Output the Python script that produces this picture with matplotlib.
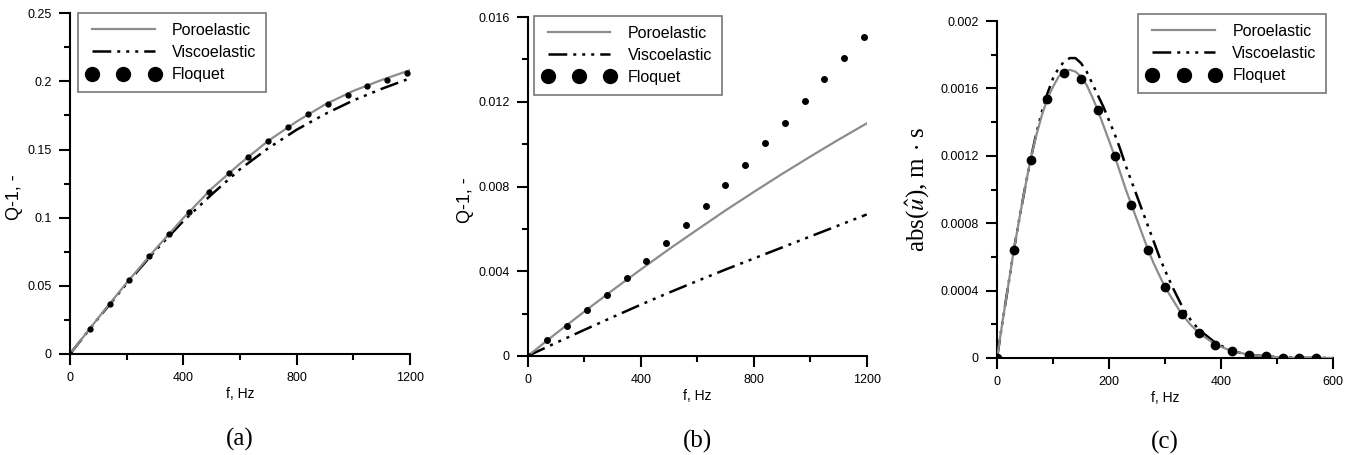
import matplotlib
matplotlib.use("Agg")
import matplotlib.pyplot as plt
from matplotlib.ticker import MultipleLocator, FuncFormatter

plt.rcParams['font.family'] = ['Liberation Sans', 'DejaVu Sans']
plt.rcParams['mathtext.fontset'] = 'stix'

# ---- (a) ----
fa_curve = [0, 100, 200, 300, 400, 500, 600, 700, 800, 900, 1000, 1100, 1200]
poro_a = [0, 0.0265, 0.0522, 0.0765, 0.0997, 0.1213, 0.1396, 0.1564, 0.1705,
          0.1830, 0.1930, 0.2010, 0.2082]
visco_a = [0, 0.0262, 0.0515, 0.0755, 0.0975, 0.1170, 0.1355, 0.1510, 0.1645,
           0.1760, 0.1860, 0.1945, 0.2022]
f_floq_ab = [0, 70, 140, 210, 280, 350, 420, 490, 560, 630, 700, 770, 840,
             910, 980, 1050, 1120, 1190]
floq_a = [0, 0.0183, 0.0367, 0.0545, 0.0716, 0.0882, 0.1038, 0.1190, 0.1325,
          0.1447, 0.1564, 0.1666, 0.1757, 0.1835, 0.1902, 0.1965, 0.2009, 0.2058]

# ---- (b) ----
fb_curve = fa_curve
poro_b = [0, 0.00106, 0.00209, 0.00310, 0.00408, 0.00504, 0.00596, 0.00687,
          0.00774, 0.00859, 0.00941, 0.01021, 0.01098]
visco_b = [0, 0.00062, 0.00123, 0.00183, 0.00242, 0.00299, 0.00354, 0.00408,
           0.00460, 0.00512, 0.00564, 0.00616, 0.00668]
floq_b = [0, 0.00074, 0.00143, 0.00217, 0.00289, 0.00366, 0.00448, 0.00531,
          0.00619, 0.00710, 0.00805, 0.00902, 0.01003, 0.01102, 0.01204,
          0.01306, 0.01408, 0.01506]

# ---- (c) ----
fc_curve = [0, 10, 20, 30, 40, 50, 60, 70, 80, 90, 100, 110, 120, 130, 140,
            150, 160, 170, 180, 190, 200, 210, 220, 230, 240, 250, 260, 270,
            280, 290, 300, 315, 330, 345, 360, 390, 420, 450, 480, 510, 540, 600]
poro_c = [0, 0.00022, 0.00043, 0.00064, 0.00083, 0.00101, 0.00118, 0.00132,
          0.00144, 0.00154, 0.00161, 0.00167, 0.00170, 0.00171, 0.00170,
          0.00167, 0.00162, 0.00155, 0.00147, 0.00138, 0.00129, 0.00120,
          0.00110, 0.00100, 0.00091, 0.00082, 0.00073, 0.00064, 0.00056,
          0.00049, 0.00042, 0.00034, 0.00026, 0.00020, 0.00015, 0.00008,
          0.00004, 0.00002, 0.00001, 0.000003, 0.000001, 0]
visco_c = [0, 0.00022, 0.00043, 0.00064, 0.00083, 0.00101, 0.00118, 0.00133,
           0.00146, 0.00157, 0.00166, 0.00172, 0.00176, 0.00178, 0.00178,
           0.00175, 0.00170, 0.00163, 0.00156, 0.00149, 0.00141, 0.00133,
           0.00124, 0.00114, 0.00105, 0.00096, 0.00087, 0.00078, 0.00069,
           0.00060, 0.00052, 0.00041, 0.00031, 0.00023, 0.00017, 0.00009,
           0.00004, 0.00002, 0.00001, 0.000004, 0.000001, 0]
f_floq_c = [0, 30, 60, 90, 120, 150, 180, 210, 240, 270, 300, 330, 360, 390,
            420, 450, 480, 510, 540, 570]
floq_c = [0, 0.000638, 0.001175, 0.00154, 0.00169, 0.001658, 0.00147, 0.0012,
          0.00091, 0.000642, 0.000424, 0.000263, 0.000148, 0.000079, 0.000039,
          0.00002, 0.00001, 0.000002, 0, 0]

GRAY = '#8c8c8c'
VDASH = (0, (7.5, 2.4, 1.2, 2.4, 1.2, 2.4, 1.2, 2.4))

fig = plt.figure(figsize=(13.53, 4.55), dpi=100)

panels = [
    dict(pos=[0.0517, 0.222, 0.2513, 0.749], fc=fa_curve, poro=poro_a, visco=visco_a,
         ff=f_floq_ab, floq=floq_a, xlim=1200, xmaj=400, xmin=200, ylim=0.25,
         ymaj=0.05, ymin=0.025, ylabel='Q-1, -', ms=3.5, leg=(0.0235, 1.0), tag='(a)'),
    dict(pos=[0.390, 0.2176, 0.2506, 0.745], fc=fb_curve, poro=poro_b, visco=visco_b,
         ff=f_floq_ab, floq=floq_b, xlim=1200, xmaj=400, xmin=200, ylim=0.016,
         ymaj=0.004, ymin=0.002, ylabel='Q-1, -', ms=4, leg=(0.0177, 1.003), tag='(b)'),
    dict(pos=[0.7369, 0.2132, 0.2483, 0.7406], fc=fc_curve, poro=poro_c, visco=visco_c,
         ff=f_floq_c, floq=floq_c, xlim=600, xmaj=200, xmin=100, ylim=0.002,
         ymaj=0.0004, ymin=0.0002, ylabel=r'abs($\hat{u}$), m$\,\cdot\,$s', ms=6,
         leg=(0.42, 1.02), tag='(c)'),
]

for p in panels:
    ax = fig.add_axes(p['pos'])
    ax.plot(p['fc'], p['poro'], color=GRAY, lw=1.6, label='Poroelastic', zorder=3)
    ax.plot(p['fc'], p['visco'], color='black', lw=1.8, linestyle=VDASH,
            label='Viscoelastic', zorder=2)
    ax.plot(p['ff'], p['floq'], linestyle='none', marker='o', color='black',
            ms=p['ms'], label='Floquet', zorder=4)

    ax.set_xlim(0, p['xlim'])
    ax.set_ylim(0, p['ylim'])
    ax.xaxis.set_major_locator(MultipleLocator(p['xmaj']))
    ax.xaxis.set_minor_locator(MultipleLocator(p['xmin']))
    ax.yaxis.set_major_locator(MultipleLocator(p['ymaj']))
    ax.yaxis.set_minor_locator(MultipleLocator(p['ymin']))
    ax.yaxis.set_major_formatter(FuncFormatter(lambda v, pos: f'{round(v, 6):g}'))
    ax.xaxis.set_major_formatter(FuncFormatter(lambda v, pos: f'{v:g}'))

    for s in ['top', 'right']:
        ax.spines[s].set_visible(False)
    for s in ['left', 'bottom']:
        ax.spines[s].set_linewidth(1.5)
    ax.tick_params(which='major', direction='out', length=8, width=1.5,
                   labelsize=9, pad=5)
    ax.tick_params(which='minor', direction='out', length=4.5, width=1.5)

    ax.set_xlabel('f, Hz', fontsize=10, labelpad=2)
    if p['tag'] == '(c)':
        ax.set_ylabel(p['ylabel'], fontsize=18, family=['Liberation Serif'], labelpad=6)
    else:
        ax.set_ylabel(p['ylabel'], fontsize=13, labelpad=3)
        ax.yaxis.label.set_y(0.46)

    leg = ax.legend(loc='upper left', bbox_to_anchor=p['leg'], borderaxespad=0,
                    fontsize=11.5, numpoints=3, handlelength=4.5, handletextpad=0.8,
                    labelspacing=0.45, borderpad=0.6, fancybox=False, framealpha=1)
    leg.get_frame().set_edgecolor('#777777')
    leg.get_frame().set_linewidth(1.2)
    for h in leg.legend_handles:
        if h.get_marker() not in (None, 'None', ''):
            h.set_markersize(10)

    ax.text(0.5, -0.252, p['tag'], transform=ax.transAxes, ha='center', va='center',
            fontsize=18, family=['Liberation Serif'])

fig.savefig('out.png', dpi=100)
